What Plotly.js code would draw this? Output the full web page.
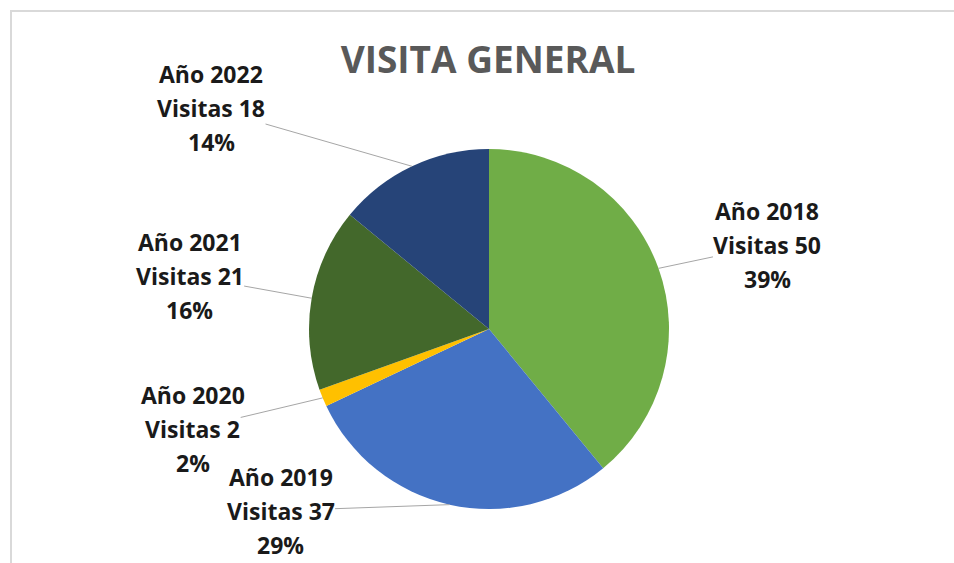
<!DOCTYPE html>
<html>
<head>
<meta charset="utf-8">
<script src="https://cdn.plot.ly/plotly-3.0.1.min.js"></script>
<style>html,body{margin:0;padding:0;background:#fff;}#chart{width:954px;height:563px;}</style>
</head>
<body>
<div id="chart"></div>
<script>
// ---- data ----
const years = ['Año 2018', 'Año 2019', 'Año 2020', 'Año 2021', 'Año 2022'];
const visits = [50, 37, 2, 21, 18];
const colors = ['#70AD47', '#4472C4', '#FFC000', '#43682B', '#264478'];
const chartTitle = 'VISITA GENERAL';

// ---- layout config ----
const W = 954, H = 563;
const cx = 489, cy = 329, R = 180;            // pie centre / radius in px
const labelOffsets = [[109, -23], [-169, 6], [-130, 31], [-122, -22], [-201, -58]]; // middle-line text offset from slice edge
const lineGap = 34;
const labelFont = {family: 'Open Sans, sans-serif', size: 23, color: '#1a1a1a', weight: 700};

const total = visits.reduce((a, b) => a + b, 0);
const annotations = [];
let cum = 0;
visits.forEach((v, i) => {
  const mid = (cum + v / 2) / total * 2 * Math.PI; // clockwise from 12 o'clock
  cum += v;
  const px = cx + R * Math.sin(mid);
  const py = cy - R * Math.cos(mid);
  const x = px / W, y = 1 - py / H;
  const [ax, ay] = labelOffsets[i];
  const pct = Math.round(v / total * 100) + '%';
  const lines = [years[i], 'Visitas ' + v, pct];
  lines.forEach((t, k) => {
    annotations.push({
      xref: 'paper', yref: 'paper', x: x, y: y,
      text: '<b>' + t + '</b>',
      showarrow: true, arrowhead: 0, arrowwidth: 1,
      arrowcolor: k === 1 ? '#A6A6A6' : 'rgba(0,0,0,0)',
      ax: ax, ay: ay + (k - 1) * lineGap,
      font: labelFont, xanchor: 'center', yanchor: 'middle', borderpad: 0
    });
  });
});

const data = [{
  type: 'pie',
  labels: years,
  values: visits,
  marker: {colors: colors, line: {width: 0}},
  sort: false,
  direction: 'clockwise',
  rotation: 0,
  textinfo: 'none',
  hoverinfo: 'none',
  showlegend: false,
  domain: {x: [(cx - R) / W, (cx + R) / W], y: [1 - (cy + R) / H, 1 - (cy - R) / H]}
}];

const layout = {
  width: W, height: H,
  margin: {l: 0, r: 0, t: 0, b: 0},
  paper_bgcolor: '#fff',
  title: {
    text: '<b>' + chartTitle + '</b>',
    x: 488 / W, xanchor: 'center', y: 1 - 60 / H, yanchor: 'middle',
    font: {family: 'Open Sans, sans-serif', size: 37, color: '#595959'}
  },
  annotations: annotations,
  shapes: [
    {type: 'line', xref: 'paper', yref: 'paper', x0: 10 / W, x1: 1, y0: 1 - 11 / H, y1: 1 - 11 / H, line: {color: '#D9D9D9', width: 2}},
    {type: 'line', xref: 'paper', yref: 'paper', x0: 11 / W, x1: 11 / W, y0: 1 - 11 / H, y1: 0, line: {color: '#D9D9D9', width: 2}}
  ]
};

Plotly.newPlot('chart', data, layout, {displayModeBar: false, staticPlot: true});
</script>
</body>
</html>
